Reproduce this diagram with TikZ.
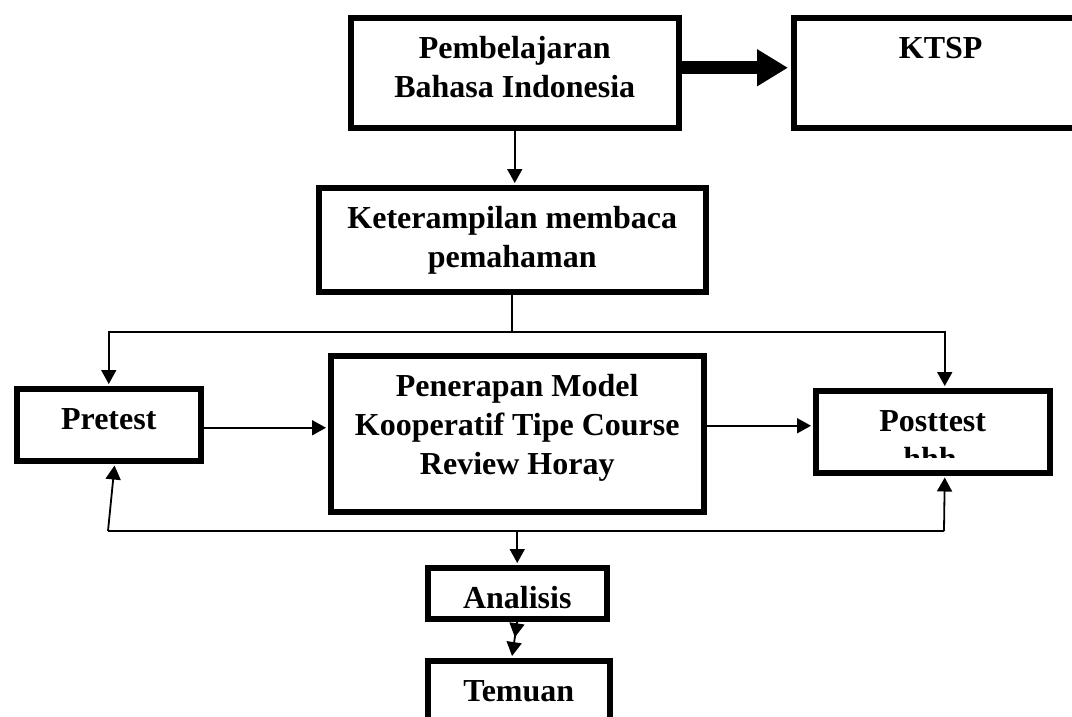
\documentclass[tikz,border=0pt]{standalone}
\usepackage{fontspec}
\setmainfont{Liberation Serif}
\usetikzlibrary{arrows.meta}
\newcommand{\bxtext}[3]{\parbox[c][#2][t]{#1}{\centering\rule{0pt}{41pt}#3\par}}
\begin{document}
\begin{tikzpicture}[x=1pt,y=-1pt,
  boxstyle/.style={draw, line width=5.5pt, inner sep=0pt, anchor=north west,
    font=\fontsize{32}{39}\selectfont\bfseries},
  conn/.style={line width=1.8pt},
  arr/.style={conn, -{Triangle[length=14pt,width=15pt]}, shorten >=2pt},
  ]
\clip (0,0) rectangle (1072,716);
\fill[white] (0,0) rectangle (1072,716);

\node[boxstyle] (P) at (348,15) {\bxtext{328pt}{110pt}{Pembelajaran\\Bahasa Indonesia}};
\node[boxstyle] (K) at (791,15) {\bxtext{294pt}{110pt}{KTSP}};
\node[boxstyle] (KT) at (316,185) {\bxtext{387pt}{104pt}{Keterampilan membaca\\pemahaman}};
\node[boxstyle] (Pre) at (14,386) {\bxtext{184pt}{72pt}{Pretest}};
\node[boxstyle] (Pen) at (328,353) {\bxtext{373pt}{156pt}{Penerapan Model\\Kooperatif Tipe Course\\Review Horay}};
\node[boxstyle] (Post) at (813,388) {\bxtext{234pt}{82pt}{Posttest}};
\begin{scope}
  \clip (813,391) rectangle (1047,457);
  \node[font=\fontsize{32}{39}\selectfont\bfseries, anchor=base, inner sep=0pt] (hhh) at (930,469) {hhh};
\end{scope}
\node[boxstyle] (An) at (425,565) {\bxtext{179pt}{51pt}{Analisis}};
\node[boxstyle] (Tm) at (425,658) {\bxtext{182pt}{60pt}{Temuan}};

% thick arrow
\draw[line width=13pt, -{Triangle[length=31pt,width=35pt]}, shorten >=3pt]
  ([yshift=5pt]P.east) -- ([yshift=5pt]K.west);

% P -> KT
\draw[arr] (P.south) -- (P.south |- KT.north);

% split
\coordinate (splitY) at (0,332);
\coordinate (split) at (KT.south |- splitY);
\draw[conn] (KT.south) -- (split);
\draw[arr] (split) -| (Pre.north);
\draw[arr] (split) -| ([xshift=12pt]Post.north);

% middle row
\draw[arr] ([yshift=-3pt]Pre.east) -- ([yshift=-3pt]Pre.east -| Pen.west);
\draw[arr] ([yshift=6pt]Post.west -| Pen.east) -- ([yshift=6pt]Post.west);

% feedback
\coordinate (fbL) at (108,531);
\coordinate (fbR) at (944,531);
\coordinate (fbM) at (An.north |- fbL);
\draw[conn] (fbL) -- (fbR);
\draw[arr] (fbL) -- ([xshift=6pt]Pre.south);
\draw[arr] (fbR) -- ([xshift=12pt]Post.south);
\draw[arr] (fbM) -- (An.north);

% Analisis -> Temuan (double head)
\draw[conn, -{Triangle[length=14pt,width=15pt,sep=5pt]Triangle[length=14pt,width=15pt]}, shorten >=2pt]
  (An.south) -- ([xshift=-7pt]Tm.north);
\end{tikzpicture}
\end{document}
